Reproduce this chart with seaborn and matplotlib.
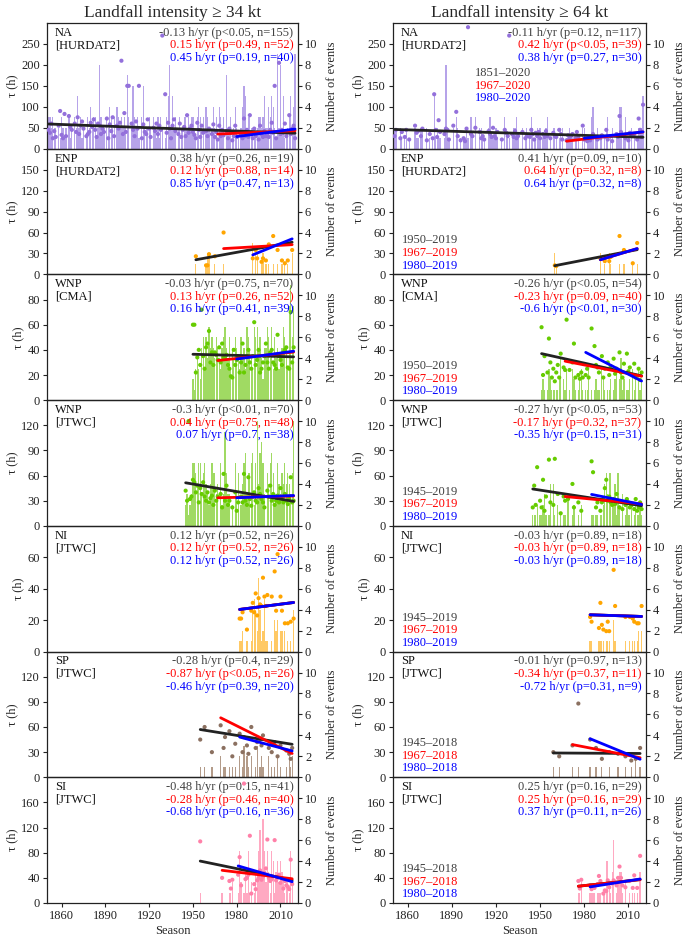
import numpy as np
import pandas as pd
import matplotlib
matplotlib.use("Agg")
import matplotlib.pyplot as plt
import seaborn as sns

N = None
# ---------------- NA, >=34 kt (1851-2020) ----------------
na34_start = 1851
na34_count = [3,3,2,3,2,2,0,2,1,3, 2,1,2,0,3,1,2,0,3,2, 5,2,3,1,2,0,1,3,2,4,
              2,3,3,1,2,8,3,2,2,0, 3,2,4,3,2,3,0,4,3,2, 3,2,3,2,7,3,0,2,6,3,
              2,3,1,0,3,6,2,2,2,3, 2,0,3,2,1,3,1,3,2,0, 1,3,5,8,2,5,2,3,0,2,
              3,2,2,3,3,2,3,2,3,3, 1,1,3,4,3,2,3,0,4,3, 2,0,2,4,2,3,1,4,3,2,
              3,0,7,2,2,3,1,2,4,2, 1,0,2,4,6,5,1,3,3,2, 2,1,1,2,3,3,2,3,5,2,
              2,4,3,5,4,2,1,9,2,8, 2,5,1,1,2,3,5,2,4,9]
na34_tau = [45,38,60,25,42,28,N,55,90,33, 25,83,30,N,78,52,45,N,60,40, 75,35,55,65,48,N,30,35,40,62,
            52,70,45,28,60,55,35,48,40,N, 72,25,58,42,75,30,N,55,48,62, 210,35,85,40,150,150,N,60,45,30,
            65,48,150,N,25,58,40,35,70,48, 28,N,50,42,60,35,55,45,270,N, 130,38,62,48,25,55,70,42,N,35,
            60,28,45,52,30,80,38,48,55,40, 33,25,62,45,28,55,38,N,42,30, 48,N,35,58,28,40,22,55,30,45,
            32,N,42,25,48,38,20,30,55,28, 40,N,35,25,72,30,45,28,80,35, 25,48,30,38,22,55,35,28,42,30,
            35,28,45,62,38,150,25,40,205,35, 45,38,60,30,42,80,35,48,55,25]
na34_trend_start = [59, 35, 29]
na34_trend_slope = [-0.13, 0.15, 0.45]
na34_stats = ["-0.13 h/yr (p<0.05, n=155)", "0.15 h/yr (p=0.49, n=52)", "0.45 h/yr (p=0.19, n=40)"]

# ---------------- NA, >=64 kt (1851-2020) ----------------
na64_start = 1851
na64_count = [2,2,0,0,2,1,0,1,2,0, 1,0,0,0,2,1,1,0,2,2, 0,0,2,0,1,0,1,5,1,2,
              1,1,0,0,1,8,2,1,0,0, 2,0,3,2,0,1,0,1,1,2, 1,0,3,1,0,3,0,0,2,2,
              1,1,0,0,2,3,1,1,1,2, 1,0,0,1,0,3,1,1,1,0, 1,2,2,3,1,0,0,2,0,1,
              2,0,1,3,2,1,1,2,1,2, 0,1,1,2,3,0,1,0,2,2, 1,0,1,2,2,0,0,1,1,2,
              1,1,0,1,1,1,0,0,2,2, 0,1,1,1,3,4,0,1,2,0, 1,1,0,1,2,3,0,1,2,0,
              0,1,1,4,4,0,1,3,0,1, 1,2,0,1,0,1,2,2,2,5]
na64_tau = [30,45,N,N,25,40,N,28,45,N, 22,N,N,N,55,38,42,N,30,48, N,N,20,N,35,N,25,130,45,28,
            68,40,N,N,35,48,45,22,N,N, 55,N,88,30,N,20,N,25,18,48, 290,N,35,30,N,50,N,N,40,25,
            30,22,N,N,42,35,28,50,30,25, 40,N,N,22,N,45,38,30,270,N, 35,28,42,25,30,N,N,40,N,25,
            30,N,28,45,35,22,38,30,40,25, N,35,28,42,30,N,25,N,38,30, 28,N,45,35,22,N,N,20,32,25,
            30,35,N,25,40,28,N,N,55,22, N,18,25,20,30,35,N,28,22,N, 25,32,N,28,45,22,N,30,18,N,
            N,35,28,78,40,N,30,25,N,20, 38,30,N,35,N,22,72,45,28,105]
na64_trend_start = [46, 18, 25]
na64_trend_slope = [-0.11, 0.42, 0.38]
na64_stats = ["-0.11 h/yr (p=0.12, n=117)", "0.42 h/yr (p<0.05, n=39)", "0.38 h/yr (p=0.27, n=30)"]

# ---------------- ENP ----------------
enp34_years = [1952,1959,1960,1961,1965,1971,1991,1993,1994,1997,1998,2000,2002,2005,2008,2011,2013,2015,2018]
enp34_count = [1,1,2,2,1,1,3,2,2,1,2,1,1,1,1,1,1,1,2]
enp34_tau = [26,13,13,29,26,60,23,35,23,18,23,20,43,55,35,20,16,20,35]
enp34_trend_start = [21, 37, 28]
enp34_trend_slope = [0.38, 0.12, 0.85]
enp34_stats = ["0.38 h/yr (p=0.26, n=19)", "0.12 h/yr (p=0.88, n=14)", "0.85 h/yr (p=0.47, n=13)"]

enp64_years = [1960,1961,1991,1994,1997,1998,2004,2007,2013,2016]
enp64_count = [2,1,2,1,2,1,1,1,1,1]
enp64_tau = [13,12,23,19,19,25,55,35,16,45]
enp64_trend_start = [12.5, 21, 21]
enp64_trend_slope = [0.41, 0.64, 0.64]
enp64_stats = ["0.41 h/yr (p=0.09, n=10)", "0.64 h/yr (p=0.32, n=8)", "0.64 h/yr (p=0.32, n=8)"]

# ---------------- WNP [CMA] (1950-2019) ----------------
wnpc34_start = 1950
wnpc34_count = [2,1,3,4,3,2,5,6,3,6, 4,7,5,6,5,4,6,5,4,3, 5,6,7,5,4,6,3,5,4,6,
                5,4,3,6,4,5,3,7,6,5, 4,3,7,6,7,5,6,4,2,5, 5,7,6,4,7,3,6,4,5,3,
                4,5,7,6,5,3,9,11,6,9]
wnpc34_tau = [60,60,22,34,40,28,72,35,25,42, 45,55,30,38,28,38,36,32,42,30, 45,34,33,36,28,25,19,18,40,28,
              32,35,22,30,45,22,28,35,40,30, 25,35,62,28,32,40,22,25,30,35, 45,30,25,38,40,30,28,25,52,35,
              32,28,38,40,42,26,25,70,30,42]
wnpc34_trend_start = [36.5, 31.5, 32.7]
wnpc34_trend_slope = [-0.03, 0.13, 0.16]
wnpc34_stats = ["-0.03 h/yr (p=0.75, n=70)", "0.13 h/yr (p=0.26, n=52)", "0.16 h/yr (p=0.41, n=39)"]

wnpc64_start = 1950
wnpc64_count = [0,1,2,1,0,1,3,2,1,1, 1,1,1,2,4,0,2,1,3,0, 1,0,3,2,1,0,1,2,3,1,
                0,1,1,3,0,1,0,1,2,1, 1,0,3,2,1,0,1,1,2,0, 1,2,3,0,2,4,1,2,0,1,
                1,2,0,3,1,2,0,3,1,2]
wnpc64_tau = [N,58,20,35,N,22,49,30,18,25, 15,22,28,18,37,N,26,24,64,N, 24,N,30,45,18,N,20,17,22,18,
              N,20,25,18,N,57,N,43,28,26, 22,N,35,18,25,N,30,20,27,N, 33,21,25,N,38,22,18,29,N,37,
              23,26,N,20,29,18,N,25,16,22]
wnpc64_trend_start = [37, 31, 38]
wnpc64_trend_slope = [-0.26, -0.23, -0.6]
wnpc64_stats = ["-0.26 h/yr (p<0.05, n=54)", "-0.23 h/yr (p=0.09, n=40)", "-0.6 h/yr (p<0.01, n=30)"]

# ---------------- WNP [JTWC] (1945-2019) ----------------
wnpj34_start = 1945
wnpj34_count = [2,3,1,2,3,6,6,5,4,6, 6,3,5,6,4,3,2,4,6,5, 5,3,4,0,6,2,3,9,5,3,
                3,0,2,0,6,3,5,0,2,4, 6,7,3,5,5,6,7,2,6,10, 4,7,8,6,3,0,5,4,6,7,
                5,2,3,6,4,3,5,4,6,4, 5,4,3,5,10]
wnpj34_tau = [42,30,125,32,35,55,52,40,48,28, 45,38,52,35,30,40,28,33,36,25, 42,30,35,N,38,22,62,30,48,25,
              30,N,22,N,40,18,28,N,35,28, 62,30,25,58,32,24,35,40,30,28, 45,38,32,28,22,N,42,35,48,30,
              38,25,30,36,28,45,32,28,38,30, 26,32,58,28,30]
wnpj34_trend_start = [51.4, 33.5, 33.5]
wnpj34_trend_slope = [-0.3, 0.04, 0.07]
wnpj34_stats = ["-0.3 h/yr (p<0.01, n=70)", "0.04 h/yr (p=0.75, n=48)", "0.07 h/yr (p=0.7, n=38)"]

wnpj64_start = 1945
wnpj64_count = [1,1,1,2,0,1,1,2,3,1, 0,1,4,0,4,1,0,2,0,1, 0,1,1,0,3,0,0,1,2,0,
                0,1,0,2,0,0,0,0,0,0, 1,1,0,1,1,0,1,1,2,4, 5,3,5,5,2,2,4,1,5,2,
                0,3,0,1,2,1,1,2,0,1, 2,1,1,2,1]
wnpj64_tau = [22,48,25,70,N,30,22,55,18,35, N,79,28,N,25,80,N,38,N,15, N,35,30,N,32,N,N,50,22,N,
              N,28,N,18,N,N,N,N,N,N, 77,64,N,22,28,N,18,28,32,45, 55,30,35,28,25,32,26,38,30,22,
              N,20,N,25,32,28,22,24,N,20, 32,18,22,28,20]
wnpj64_trend_start = [44, 35, 37.5]
wnpj64_trend_slope = [-0.27, -0.17, -0.35]
wnpj64_stats = ["-0.27 h/yr (p<0.05, n=53)", "-0.17 h/yr (p=0.32, n=37)", "-0.35 h/yr (p=0.15, n=31)"]

# ---------------- NI [JTWC] ----------------
ni34_years = [1982,1983,1984,1987,1990,1991,1992,1993,1994,1995,1996,1997,1998,1999,2000,2001,2004,2006,2007,2008,2010,2011,2013,2015,2017,2019]
ni34_count = [1,1,2,1,1,4,5,4,2,7,4,1,2,5,1,1,1,3,2,3,2,2,2,1,1,4]
ni34_tau = [21,21,25,14,26,31,25,37,23,34,30,29,47,35,29,36,35,51,26,62,35,26,18,18,19,21]
ni34_trend_start = [26.8, 26.8, 26.8]
ni34_trend_slope = [0.12, 0.12, 0.12]
ni34_stats = ["0.12 h/yr (p=0.52, n=26)", "0.12 h/yr (p=0.52, n=26)", "0.12 h/yr (p=0.52, n=26)"]

ni64_years = [1984,1985,1990,1991,1992,1993,1995,1996,1997,2000,2001,2008,2011,2013,2014,2016,2017,2019]
ni64_count = [1,1,1,1,1,1,1,1,1,3,1,1,1,1,1,1,2,2]
ni64_tau = [22,19,15,31,17,14,13,19,13,52,29,22,22,21,19,18,18,29]
ni64_trend_start = [23.4, 23.4, 23.4]
ni64_trend_slope = [-0.03, -0.03, -0.03]
ni64_stats = ["-0.03 h/yr (p=0.89, n=18)", "-0.03 h/yr (p=0.89, n=18)", "-0.03 h/yr (p=0.89, n=18)"]

# ---------------- SP [JTWC] ----------------
sp34_years = [1955,1958,1963,1969,1971,1972,1975,1977,1979,1982,1984,1985,1987,1988,1990,1993,1994,1996,1997,1998,2002,2004,2006,2008,2010,2014,2016,2017,2018]
sp34_count = [1,1,1,2,1,1,1,1,1,2,1,3,2,1,2,1,3,1,2,1,2,1,1,2,1,1,2,1,2]
sp34_tau = [45,60,30,62,35,48,55,25,40,52,30,48,38,28,60,35,42,45,38,50,35,30,42,25,38,32,28,22,35]
sp34_trend_start = [57, 71, 48]
sp34_trend_slope = [-0.28, -0.87, -0.46]
sp34_stats = ["-0.28 h/yr (p=0.4, n=29)", "-0.87 h/yr (p<0.05, n=26)", "-0.46 h/yr (p=0.39, n=20)"]

sp64_years = [1959,1963,1972,1976,1984,1988,1992,1997,2003,2008,2012,2015,2018]
sp64_count = [1,1,1,1,1,1,1,1,1,1,1,2,1]
sp64_tau = [30,25,38,88,45,35,22,30,28,25,20,22,35]
sp64_trend_start = [29, 39, 46]
sp64_trend_slope = [-0.01, -0.34, -0.72]
sp64_stats = ["-0.01 h/yr (p=0.97, n=13)", "-0.34 h/yr (p=0.37, n=11)", "-0.72 h/yr (p=0.31, n=9)"]

# ---------------- SI [JTWC] ----------------
si34_years = [1955,1970,1975,1976,1977,
              1981,1982,1983,1985,1986,1987,1988,1989,1990,1992,1993,1994,1995,1996,1997,1998,1999,
              2000,2001,2002,2003,2004,2005,2006,2007,2008,2009,2010,2011,2012,2013,2014,2015,2016,2017,2018]
si34_count = [1,1,1,1,2, 1,5,2,1,3,1,5,1,2,1,3,3,5,7,3,8,5, 2,5,3,1,5,4,1,3,4,2,4,3,2,1,2,2,1,5,2]
si34_tau = [98,40,35,23,37, 45,73,28,190,38,40,45,107,15,30,22,36,40,52,37,42,48,
            55,101,40,35,38,42,100,36,40,45,32,38,23,35,28,26,22,69,30]
si34_trend_start = [66.7, 52, 59]
si34_trend_slope = [-0.48, -0.28, -0.68]
si34_stats = ["-0.48 h/yr (p=0.15, n=41)", "-0.28 h/yr (p=0.46, n=40)", "-0.68 h/yr (p=0.16, n=36)"]

si64_years = [1976,1977,1978,1984,1985,1986,1987,1989,1990,1991,1993,1994,1995,1996,1997,1998,1999,2000,
              2002,2003,2004,2005,2006,2008,2011,2013,2014,2016,2018]
si64_count = [1,1,2,1,1,1,1,1,1,1,1,1,4,4,2,1,3,6,1,2,3,3,1,2,1,1,1,1,3]
si64_tau = [35,23,37,28,22,25,24,30,43,35,15,20,19,36,25,32,31,36,28,40,58,40,28,25,35,24,44,24,75]
si64_trend_start = [26.7, 26.7, 25.6]
si64_trend_slope = [0.25, 0.25, 0.37]
si64_stats = ["0.25 h/yr (p=0.16, n=29)", "0.25 h/yr (p=0.16, n=29)", "0.37 h/yr (p=0.11, n=26)"]

# ---------------- panel meta ----------------
regions = ["NA", "ENP", "WNP", "WNP", "NI", "SP", "SI"]
sources = ["[HURDAT2]", "[HURDAT2]", "[CMA]", "[JTWC]", "[JTWC]", "[JTWC]", "[JTWC]"]
ytops = [300, 180, 100, 150, 80, 150, 200]
ysteps = [50, 30, 20, 30, 20, 30, 40]
yticks_max = [250, 150, 80, 120, 60, 120, 160]
first_years = [1851, 1950, 1950, 1945, 1945, 1945, 1945]
last_years = [2020, 2019, 2019, 2019, 2019, 2018, 2018]
bar_colors = ["#a993e6", "#ffc04a", "#8fd448", "#8fd448", "#ffc04a", "#a68a74", "#ff9ab8"]
pt_colors = ["#9370db", "#ffa500", "#66cc00", "#66cc00", "#ffa500", "#8b7060", "#ff80a8"]
col_titles = ["Landfall intensity \u2265 34 kt", "Landfall intensity \u2265 64 kt"]
trend_colors = ["#222222", "red", "blue"]
text_colors = ["#404040", "red", "blue"]


def dense(start, counts, taus):
    assert len(counts) == len(taus), (start, len(counts), len(taus))
    yrs = list(range(start, start + len(counts)))
    return pd.DataFrame({"year": yrs, "count": counts, "tau": taus})


def sparse(years, counts, taus):
    assert len(years) == len(counts) == len(taus), (years[0], len(years), len(counts), len(taus))
    return pd.DataFrame({"year": years, "count": counts, "tau": taus})


panels = [
    [(dense(na34_start, na34_count, na34_tau), na34_trend_start, na34_trend_slope, na34_stats),
     (dense(na64_start, na64_count, na64_tau), na64_trend_start, na64_trend_slope, na64_stats)],
    [(sparse(enp34_years, enp34_count, enp34_tau), enp34_trend_start, enp34_trend_slope, enp34_stats),
     (sparse(enp64_years, enp64_count, enp64_tau), enp64_trend_start, enp64_trend_slope, enp64_stats)],
    [(dense(wnpc34_start, wnpc34_count, wnpc34_tau), wnpc34_trend_start, wnpc34_trend_slope, wnpc34_stats),
     (dense(wnpc64_start, wnpc64_count, wnpc64_tau), wnpc64_trend_start, wnpc64_trend_slope, wnpc64_stats)],
    [(dense(wnpj34_start, wnpj34_count, wnpj34_tau), wnpj34_trend_start, wnpj34_trend_slope, wnpj34_stats),
     (dense(wnpj64_start, wnpj64_count, wnpj64_tau), wnpj64_trend_start, wnpj64_trend_slope, wnpj64_stats)],
    [(sparse(ni34_years, ni34_count, ni34_tau), ni34_trend_start, ni34_trend_slope, ni34_stats),
     (sparse(ni64_years, ni64_count, ni64_tau), ni64_trend_start, ni64_trend_slope, ni64_stats)],
    [(sparse(sp34_years, sp34_count, sp34_tau), sp34_trend_start, sp34_trend_slope, sp34_stats),
     (sparse(sp64_years, sp64_count, sp64_tau), sp64_trend_start, sp64_trend_slope, sp64_stats)],
    [(sparse(si34_years, si34_count, si34_tau), si34_trend_start, si34_trend_slope, si34_stats),
     (sparse(si64_years, si64_count, si64_tau), si64_trend_start, si64_trend_slope, si64_stats)],
]

sns.set_theme(style="ticks")
plt.rcParams["font.family"] = ["Liberation Serif", "DejaVu Serif"]
plt.rcParams["axes.edgecolor"] = "#222222"
plt.rcParams["axes.linewidth"] = 0.9
plt.rcParams["xtick.color"] = "#222222"
plt.rcParams["ytick.color"] = "#222222"

W, H = 685, 940
fig = plt.figure(figsize=(W / 100, H / 100), dpi=100)
col_left = [47, 393]
col_width = [251, 253]
top_px, bot_px = 23, 903
ph = (bot_px - top_px) / 7
FS = 9.0

for row in range(7):
    for col in range(2):
        df, tstart, tslope, stats = panels[row][col]
        y0 = top_px + row * ph
        ax = fig.add_axes([col_left[col] / W, 1 - (y0 + ph) / H, col_width[col] / W, ph / H])
        ax2 = ax.twinx()
        ax.set_zorder(ax2.get_zorder() + 1)
        ax.patch.set_visible(False)

        bars = df[df["count"] > 0]
        sns.histplot(x=bars["year"], weights=bars["count"], discrete=True, shrink=0.85,
                     color=bar_colors[row], alpha=0.85, linewidth=0, ax=ax2)
        pts = df.dropna(subset=["tau"])
        sns.scatterplot(x=pts["year"].values, y=pts["tau"].astype(float).values, ax=ax,
                        color=pt_colors[row], s=9, linewidth=0, edgecolor="none", zorder=3)

        periods = [(first_years[row], last_years[row]), (1967, last_years[row]), (1980, last_years[row])]
        for k, (p0, p1) in enumerate(periods):
            sub = df[(df["year"] >= p0) & (df["year"] <= p1) & (df["count"] > 0)]
            xa, xb = sub["year"].min(), sub["year"].max()
            ya = tstart[k]
            yb = tstart[k] + tslope[k] * (xb - xa)
            sns.lineplot(x=[xa, xb], y=[ya, yb], ax=ax, color=trend_colors[k], lw=2.0,
                         zorder=4 + k, legend=False)

        ax.set_xlim(1850, 2022)
        ax.set_ylim(0, ytops[row])
        ax.set_yticks(np.arange(0, yticks_max[row] + 1, ysteps[row]))
        ax2.set_ylim(0, 12)
        ax2.set_yticks([0, 2, 4, 6, 8, 10])
        ax.set_xticks([1860, 1890, 1920, 1950, 1980, 2010])
        ax.tick_params(axis="y", direction="out", length=3, width=0.8, labelsize=FS, pad=2)
        ax2.tick_params(axis="y", direction="out", length=3, width=0.8, labelsize=FS, pad=2)
        if row == 6:
            ax.tick_params(axis="x", direction="out", length=3, width=0.8, labelsize=FS, pad=2)
            ax.set_xlabel("Season", fontsize=FS, labelpad=2)
        else:
            ax.tick_params(axis="x", length=0, labelbottom=False)
            ax.set_xlabel("")
        ax2.tick_params(axis="x", length=0)
        ax.set_ylabel("\u03c4 (h)", fontsize=FS, labelpad=2)
        ax2.set_ylabel("Number of events", fontsize=FS, labelpad=6)
        for sp in ax2.spines.values():
            sp.set_visible(False)

        ax.text(0.032, 0.922, regions[row], transform=ax.transAxes, fontsize=FS,
                ha="left", va="center", color="#111111")
        ax.text(0.032, 0.822, sources[row], transform=ax.transAxes, fontsize=FS,
                ha="left", va="center", color="#111111")
        for k in range(3):
            ax.text(0.982, 0.922 - 0.1 * k, stats[k], transform=ax.transAxes, fontsize=FS,
                    ha="right", va="center", color=text_colors[k])
        if col == 1:
            plab = [f"{first_years[row]}\u2013{last_years[row]}", f"1967\u2013{last_years[row]}",
                    f"1980\u2013{last_years[row]}"]
            if row == 0:
                xs, yy, ha = 0.435, [0.6, 0.5, 0.4], "center"
            else:
                xs, yy, ha = 0.034, [0.27, 0.17, 0.07], "left"
            for k in range(3):
                ax.text(xs, yy[k], plab[k], transform=ax.transAxes, fontsize=FS,
                        ha=ha, va="center", color=text_colors[k])
        if row == 0:
            ax.set_title(col_titles[col], fontsize=12.5, pad=4)

fig.savefig("out.png", dpi=100)
